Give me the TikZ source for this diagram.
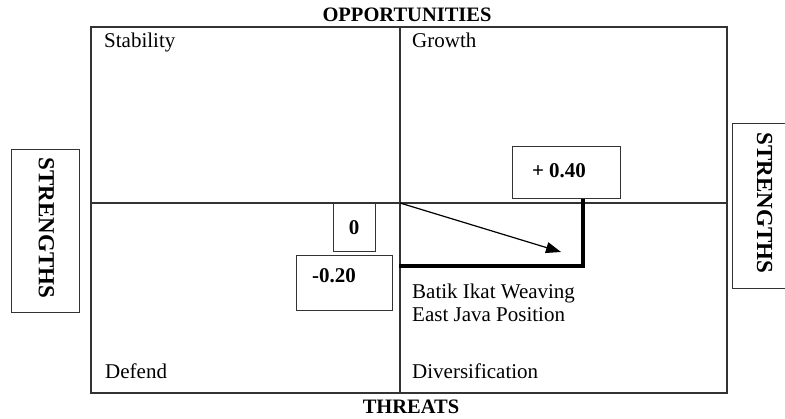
\documentclass[tikz,border=0pt]{standalone}
\usepackage{fontspec}
\setmainfont{Liberation Serif}
\usetikzlibrary{arrows.meta}
\begin{document}
\begin{tikzpicture}[x=1pt,y=-1pt,
  frame/.style={draw=black!80,line width=1.1pt},
  quad/.style={anchor=base west,inner sep=0pt,font=\fontsize{21}{23}\selectfont},
  axis/.style={inner sep=0pt,font=\fontsize{20.5}{23}\selectfont\bfseries},
  sidetext/.style={inner sep=0pt,rotate=-90,font=\fontsize{23}{25}\selectfont\bfseries},
  valbox/.style={draw=black!80,line width=1pt,inner sep=0pt,font=\fontsize{21}{23}\selectfont\bfseries},
  side/.style={draw=black!80,line width=1pt,minimum width=68pt,minimum height=163pt,inner sep=0pt}]
\useasboundingbox (0,0) rectangle (785,419);
% matrix frame and the two axes
\draw[frame] (91,27) rectangle (727,393);
\draw[frame] (91,203) -- (727,203);
\draw[frame] (400,27) -- (400,393);
\coordinate (origin) at (400,203);
% axis titles
\node[axis] (opp) at (407,15) {OPPORTUNITIES};
\node[axis] (thr) at (411,407) {THREATS};
% side boxes
\node[side] (sl) at (45,231.5) {};
\node[sidetext] (slt) at (46.5,228) {STRENGTHS};
\node[side,minimum height=165pt,anchor=north west] (sr) at (732,123) {};
\node[sidetext] (srt) at (764.5,203) {STRENGTHS};
% quadrant names
\node[quad] (stab) at (104,48) {Stability};
\node[quad] (grow) at (412,48) {Growth};
\node[quad] (def) at (105,379) {Defend};
\node[quad] (div) at (412,379) {Diversification};
\node[quad] (pos1) at (412,299) {Batik Ikat Weaving};
\node[quad] (pos2) at (412,322) {East Java Position};
% value boxes
\node[valbox,minimum width=108pt,minimum height=52pt] (pv) at (566,173) {};
\node[inner sep=0pt,font=\fontsize{21}{23}\selectfont\bfseries] (pvt) at (559,171) {+ 0.40};
\node[valbox,minimum width=42pt,minimum height=49pt] (zv) at (354,227.5) {0};
\node[valbox,minimum width=96pt,minimum height=55pt] (nv) at (344,283.5) {};
\node[inner sep=0pt,font=\fontsize{21}{23}\selectfont\bfseries] (nvt) at (334,276) {-0.20};
% resulting position
\coordinate (corner) at (583,266);
\coordinate (left) at (399,266);
\draw[line width=4pt] (pv.south -| corner) -- (corner) -- (left);
\coordinate (tip) at (561,252);
\draw[line width=1.2pt,-{Triangle[length=15pt,width=11pt]}] (origin) -- (tip);
\end{tikzpicture}
\end{document}
